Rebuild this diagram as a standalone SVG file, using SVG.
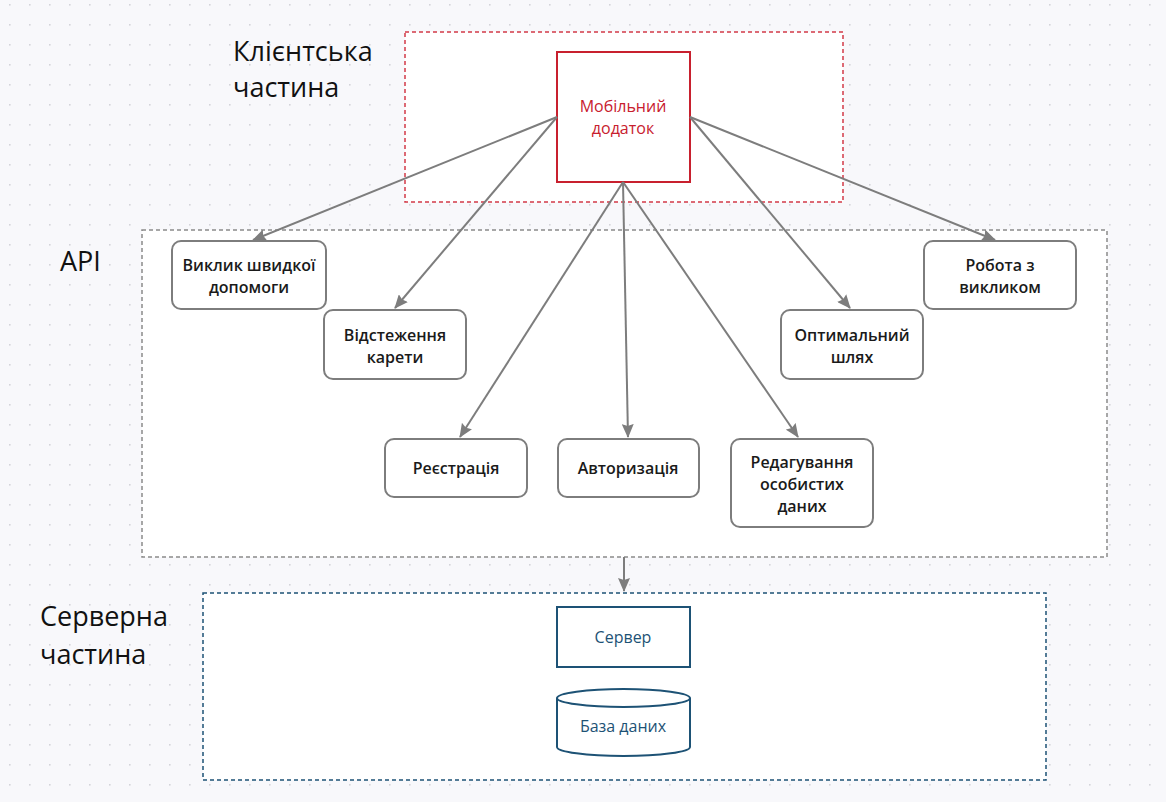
<svg xmlns="http://www.w3.org/2000/svg" width="1166" height="802" viewBox="0 0 1166 802">
<defs>
<pattern id="dots" x="0" y="0" width="20" height="20" patternUnits="userSpaceOnUse">
<rect x="9" y="4" width="1.6" height="1.6" fill="#d4d4da"/>
</pattern>
<marker id="ah" markerWidth="14" markerHeight="12" refX="13" refY="6" orient="auto" markerUnits="userSpaceOnUse">
<path d="M0,0 L14,6 L0,12 L2,6 Z" fill="#7d7d7d"/>
</marker>
<style>
.node rect{fill:#fff;stroke:#7d7d7d;stroke-width:2}
.lbl{font-family:"Open Sans","Noto Sans",sans-serif;font-size:16px;font-weight:600;fill:#1a1a1a;text-anchor:middle}
.clr{font-weight:500}
.head{font-family:"Open Sans","Noto Sans",sans-serif;font-size:27px;fill:#111}
.conn line{stroke:#7d7d7d;stroke-width:2;marker-end:url(#ah)}
</style>
</defs>
<rect width="1166" height="802" fill="#f8f8fb"/>
<rect width="1166" height="802" fill="url(#dots)"/>

<g id="client-area">
<rect x="405" y="32" width="438" height="170" fill="#fff" stroke="#d23a48" stroke-width="1.5" stroke-dasharray="4,3"/>
<text class="head" x="233" y="61">Клієнтська</text>
<text class="head" x="233" y="97">частина</text>
</g>
<g id="api-area">
<rect x="142" y="230" width="965" height="327" fill="#fff" stroke="#8a8a8a" stroke-width="1.5" stroke-dasharray="4,3"/>
<text class="head" x="60" y="271">API</text>
</g>
<g id="server-area">
<rect x="203" y="593" width="843" height="187" fill="#fff" stroke="#1d5275" stroke-width="1.5" stroke-dasharray="4,3"/>
<text class="head" x="40" y="626">Серверна</text>
<text class="head" x="40" y="664">частина</text>
</g>

<g id="mobile-app">
<rect x="557" y="52" width="133" height="130" fill="#fff" stroke="#c8202e" stroke-width="2"/>
<text class="lbl clr" x="623" y="112" style="fill:#c8202e">Мобільний</text>
<text class="lbl clr" x="623" y="134" style="fill:#c8202e">додаток</text>
</g>

<g id="n-ambulance" class="node">
<rect x="172" y="241" width="154" height="68" rx="9"/>
<text class="lbl" x="249" y="271">Виклик швидкої</text>
<text class="lbl" x="249" y="293">допомоги</text>
</g>
<g id="n-tracking" class="node">
<rect x="324" y="310" width="142" height="69" rx="9"/>
<text class="lbl" x="395" y="341">Відстеження</text>
<text class="lbl" x="395" y="363">карети</text>
</g>
<g id="n-registration" class="node">
<rect x="385" y="439" width="142" height="58" rx="9"/>
<text class="lbl" x="456" y="474">Реєстрація</text>
</g>
<g id="n-authorization" class="node">
<rect x="558" y="439" width="141" height="58" rx="9"/>
<text class="lbl" x="628" y="474">Авторизація</text>
</g>
<g id="n-edit" class="node">
<rect x="731" y="439" width="142" height="88" rx="9"/>
<text class="lbl" x="802" y="468">Редагування</text>
<text class="lbl" x="802" y="490">особистих</text>
<text class="lbl" x="802" y="512">даних</text>
</g>
<g id="n-route" class="node">
<rect x="781" y="310" width="142" height="69" rx="9"/>
<text class="lbl" x="852" y="341">Оптимальний</text>
<text class="lbl" x="852" y="363">шлях</text>
</g>
<g id="n-call" class="node">
<rect x="924" y="241" width="152" height="68" rx="9"/>
<text class="lbl" x="1000" y="271">Робота з</text>
<text class="lbl" x="1000" y="293">викликом</text>
</g>

<g id="n-server">
<rect x="557" y="607" width="133" height="60" fill="#fff" stroke="#1d5275" stroke-width="2"/>
<text class="lbl clr" x="623" y="643" style="fill:#1d5275">Сервер</text>
</g>
<g id="n-db">
<path d="M557,698 L557,747 A66.5,9 0 0 0 690,747 L690,698" fill="#fff" stroke="#1d5275" stroke-width="2"/>
<ellipse cx="623.5" cy="698" rx="66.5" ry="9" fill="#fff" stroke="#1d5275" stroke-width="2"/>
<text class="lbl clr" x="623" y="732" style="fill:#1d5275">База даних</text>
</g>

<g id="connectors" class="conn">
<line x1="557" y1="117" x2="253" y2="240"/>
<line x1="557" y1="117" x2="395" y2="308"/>
<line x1="623" y1="182" x2="460" y2="437"/>
<line x1="623" y1="182" x2="628" y2="437"/>
<line x1="623" y1="182" x2="798" y2="437"/>
<line x1="690" y1="117" x2="850" y2="308"/>
<line x1="690" y1="117" x2="995" y2="240"/>
<line x1="624" y1="557" x2="624" y2="591"/>
</g>
</svg>
